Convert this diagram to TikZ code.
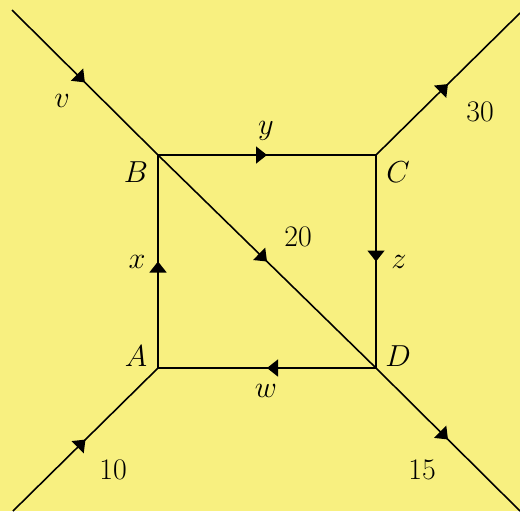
\documentclass[tikz,border=0pt]{standalone}
\usepackage{amsmath,amssymb}
\usetikzlibrary{decorations.markings,arrows.meta}

\definecolor{paper}{RGB}{248,240,128}

\tikzset{
  flow/.style={decoration={markings,
      mark=at position #1 with {\arrow{Triangle[length=2.2mm,width=3.4mm]}}},
    postaction={decorate}},
  flow/.default=0.5,
  lbl/.style={font=\fontsize{17}{20}\selectfont,inner sep=0pt}
}

\begin{document}
\begin{tikzpicture}[x=0.02cm,y=-0.02cm,line width=0.9pt]
  % Background
  \fill[paper] (0,0) rectangle (520,511);
  \useasboundingbox (0,0) rectangle (520,511);

  % Junctions
  \coordinate (A) at (158,368);
  \coordinate (B) at (158,155);
  \coordinate (C) at (376,155);
  \coordinate (D) at (376,368);

  % Free ends of the outer branches
  \coordinate (tl) at (12,10);
  \coordinate (tr) at (520,13);
  \coordinate (bl) at (13,511);
  \coordinate (br) at (520,511);

  % Outer branches
  \draw[flow] (tl) -- (B);
  \draw[flow] (C) -- (tr);
  \draw[flow] (bl) -- (A);
  \draw[flow] (D) -- (br);

  % Square and diagonal
  \draw[flow] (A) -- (B);
  \draw[flow] (B) -- (C);
  \draw[flow] (C) -- (D);
  \draw[flow] (D) -- (A);
  \draw[flow] (B) -- (D);

  % Labels
  \node[lbl] (lA) at (136,356) {$A$};
  \node[lbl] (lB) at (136,172) {$B$};
  \node[lbl] (lC) at (398,172) {$C$};
  \node[lbl] (lD) at (398,356) {$D$};
  \node[lbl] (lv) at (62,101) {$v$};
  \node[lbl] (lx) at (137,262) {$x$};
  \node[lbl] (ly) at (266,131) {$y$};
  \node[lbl] (lz) at (399,262) {$z$};
  \node[lbl] (lw) at (266,391) {$w$};
  \node[lbl] (n10) at (113,470) {10};
  \node[lbl] (n15) at (422,470) {15};
  \node[lbl] (n20) at (298,237) {20};
  \node[lbl] (n30) at (480,112) {30};
\end{tikzpicture}
\end{document}
